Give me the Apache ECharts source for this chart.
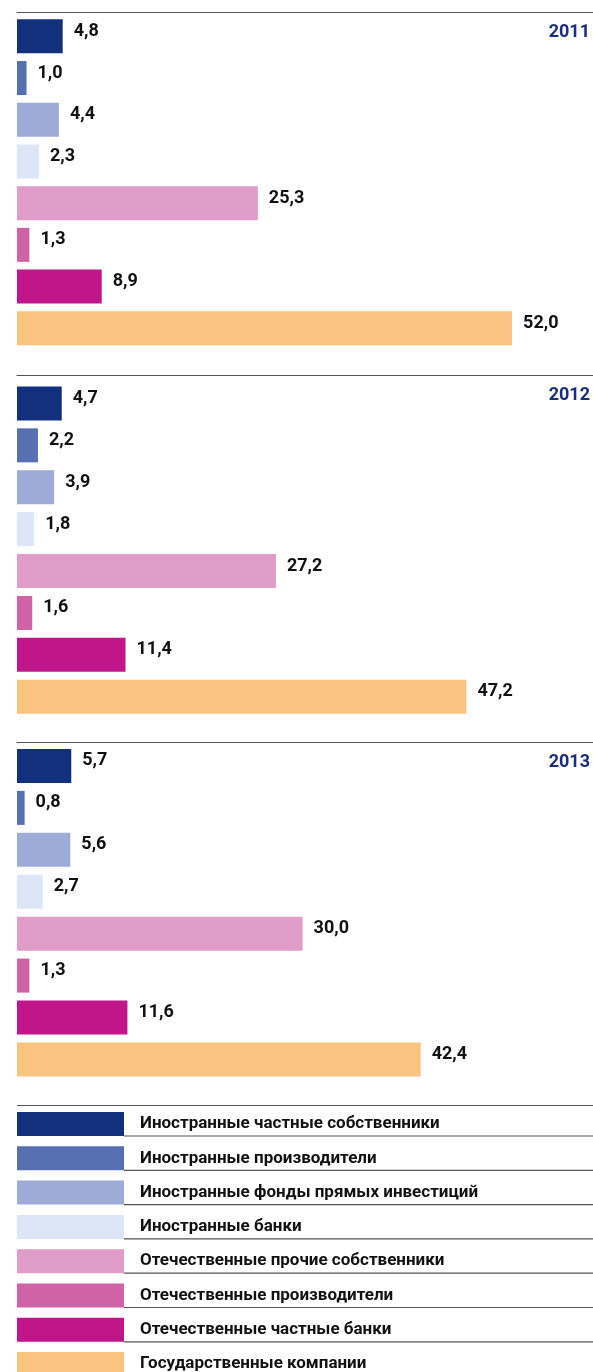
<!DOCTYPE html>
<html>
<head>
<meta charset="utf-8">
<script src="https://cdn.jsdelivr.net/npm/echarts@6/dist/echarts.min.js"></script>
<style>
html,body{margin:0;padding:0;background:#fff;overflow:hidden;}
#chart{width:593px;height:1372px;}
</style>
</head>
<body>
<div id="chart"></div>
<script>
const categories = [
  'Иностранные частные собственники',
  'Иностранные производители',
  'Иностранные фонды прямых инвестиций',
  'Иностранные банки',
  'Отечественные прочие собственники',
  'Отечественные производители',
  'Отечественные частные банки',
  'Государственные компании'
];
const years = ['2011', '2012', '2013'];
const values2011 = [4.8, 1.0, 4.4, 2.3, 25.3, 1.3, 8.9, 52.0];
const values2012 = [4.7, 2.2, 3.9, 1.8, 27.2, 1.6, 11.4, 47.2];
const values2013 = [5.7, 0.8, 5.6, 2.7, 30.0, 1.3, 11.6, 42.4];
const colors = ['#13307f', '#5670b2', '#9eabd7', '#dde6f7', '#e19dc9', '#d062a6', '#c1168a', '#f9c47f'];

const yearValues = [values2011, values2012, values2013];
const FONT = "Roboto, 'Open Sans', sans-serif";

const panels = [
  { top: 15.5, height: 333.6, lineY: 12 },
  { top: 382.5, height: 335.2, lineY: 375 },
  { top: 745, height: 335.4, lineY: 742 }
];

const grids = panels.map(p => ({ left: 17, right: 0, top: p.top, height: p.height }));
const xAxes = panels.map((p, i) => ({
  type: 'value', gridIndex: i, min: 0, max: 60.5, position: 'top',
  offset: p.top - p.lineY,
  axisLine: { show: true, lineStyle: { color: '#555', width: 1.2 } },
  axisTick: { show: false }, axisLabel: { show: false }, splitLine: { show: false }
}));
const yAxes = panels.map((p, i) => ({
  type: 'category', gridIndex: i, data: categories, inverse: true, show: false
}));
const barSeries = yearValues.map((vals, i) => ({
  type: 'bar', name: years[i], xAxisIndex: i, yAxisIndex: i, barWidth: 34,
  data: vals.map((v, j) => ({ value: v, itemStyle: { color: colors[j] } })),
  label: {
    show: true, position: 'right', distance: 11, offset: [0, -5],
    color: '#111', fontWeight: 'bold', fontSize: 18, fontFamily: FONT,
    formatter: p => p.value.toFixed(1).replace('.', ',')
  },
  silent: true
}));
const legendSeries = categories.map((c, j) => ({
  type: 'line', name: c, data: [], xAxisIndex: 0, yAxisIndex: 0,
  itemStyle: { color: colors[j] }, lineStyle: { color: colors[j] }
}));
const titles = panels.map((p, i) => ({
  text: years[i], right: 3, top: p.lineY + 11, padding: 0,
  textStyle: { color: '#1b2e7c', fontSize: 18, fontWeight: 'bold', fontFamily: FONT }
}));

const graphics = [
  { type: 'line', shape: { x1: 17, y1: 1105.5, x2: 593, y2: 1105.5 }, style: { stroke: '#555', lineWidth: 1.2 }, silent: true }
];
for (let k = 0; k < 7; k++) {
  const y = 1136 + k * 34.3;
  graphics.push({ type: 'line', shape: { x1: 124, y1: y, x2: 593, y2: y }, style: { stroke: '#555', lineWidth: 1.2 }, silent: true });
}

const chart = echarts.init(document.getElementById('chart'), null, { renderer: 'canvas' });
chart.setOption({
  animation: false,
  backgroundColor: '#fff',
  title: titles,
  grid: grids,
  xAxis: xAxes,
  yAxis: yAxes,
  legend: {
    data: categories, orient: 'vertical', left: 17, top: 1112, height: 320, padding: 0,
    itemWidth: 107, itemHeight: 24, itemGap: 10.3, icon: 'rect',
    selectedMode: false,
    textStyle: { color: '#111', fontSize: 17, fontWeight: 'bold', fontFamily: FONT, padding: [0, 0, 0, 11] }
  },
  graphic: graphics,
  series: barSeries.concat(legendSeries)
});
</script>
</body>
</html>
